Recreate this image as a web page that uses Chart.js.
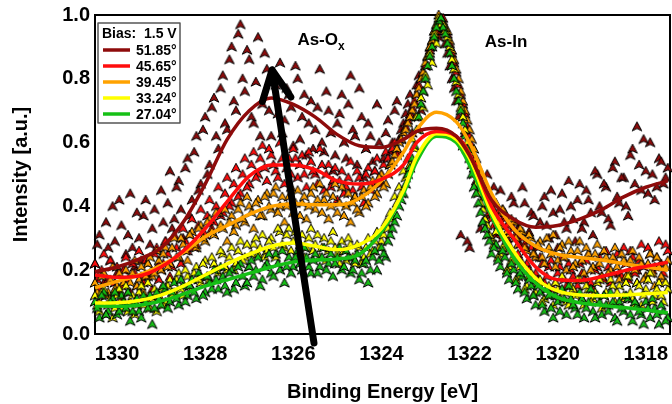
<!DOCTYPE html>
<html>
<head>
<meta charset="utf-8">
<script src="https://cdn.jsdelivr.net/npm/chart.js@4.4.1/dist/chart.umd.min.js"></script>
<style>
  html, body { margin: 0; padding: 0; background: #fff; }
  #wrap { width: 672px; height: 404px; }
</style>
</head>
<body>
<div id="wrap"><canvas id="chartXps" width="672" height="404"></canvas></div>
<script>
// angulos e cores das series
var angulos = ['51.85°', '45.65°', '39.45°', '33.24°', '27.04°'];
var cores = ['#8e0b0b', '#ff0d0d', '#ffa200', '#ffff00', '#16c016'];

// energias dos pontos medidos (eV)
var energias = [1330.5, 1330.4, 1330.3, 1330.2, 1330.1, 1330.0, 1329.9, 1329.8, 1329.7, 1329.6,
  1329.5, 1329.4, 1329.3, 1329.2, 1329.1, 1329.0, 1328.9, 1328.8, 1328.7, 1328.6,
  1328.5, 1328.4, 1328.3, 1328.2, 1328.1, 1328.0, 1327.9, 1327.8, 1327.7, 1327.6,
  1327.5, 1327.4, 1327.3, 1327.2, 1327.1, 1327.0, 1326.9, 1326.8, 1326.7, 1326.6,
  1326.5, 1326.4, 1326.3, 1326.2, 1326.1, 1326.0, 1325.9, 1325.8, 1325.7, 1325.6,
  1325.5, 1325.4, 1325.3, 1325.2, 1325.1, 1325.0, 1324.9, 1324.8, 1324.7, 1324.6,
  1324.5, 1324.4, 1324.3, 1324.2, 1324.1, 1324.0, 1323.9, 1323.8, 1323.7, 1323.6,
  1323.5, 1323.4, 1323.3, 1323.2, 1323.1, 1323.0, 1322.9, 1322.8, 1322.7, 1322.6,
  1322.5, 1322.4, 1322.3, 1322.2, 1322.1, 1322.0, 1321.9, 1321.8, 1321.7, 1321.6,
  1321.5, 1321.4, 1321.3, 1321.2, 1321.1, 1321.0, 1320.9, 1320.8, 1320.7, 1320.6,
  1320.5, 1320.4, 1320.3, 1320.2, 1320.1, 1320.0, 1319.9, 1319.8, 1319.7, 1319.6,
  1319.5, 1319.4, 1319.3, 1319.2, 1319.1, 1319.0, 1318.9, 1318.8, 1318.7, 1318.6,
  1318.5, 1318.4, 1318.3, 1318.2, 1318.1, 1318.0, 1317.9, 1317.8, 1317.7, 1317.6,
  1317.5];
var energias2 = [1330.45, 1330.35, 1330.25, 1330.15, 1330.05, 1329.95, 1329.85, 1329.75, 1329.65, 1329.55,
  1329.45, 1329.35, 1329.25, 1329.15, 1329.05, 1328.95, 1328.85, 1328.75, 1328.65, 1328.55,
  1328.45, 1328.35, 1328.25, 1328.15, 1328.05, 1327.95, 1327.85, 1327.75, 1327.65, 1327.55,
  1327.45, 1327.35, 1327.25, 1327.15, 1327.05, 1326.95, 1326.85, 1326.75, 1326.65, 1326.55,
  1326.45, 1326.35, 1326.25, 1326.15, 1326.05, 1325.95, 1325.85, 1325.75, 1325.65, 1325.55,
  1325.45, 1325.35, 1325.25, 1325.15, 1325.05, 1324.95, 1324.85, 1324.75, 1324.65, 1324.55,
  1324.45, 1324.35, 1324.25, 1324.15, 1324.05, 1323.95, 1323.85, 1323.75, 1323.65, 1323.55,
  1323.45, 1323.35, 1323.25, 1323.15, 1323.05, 1322.95, 1322.85, 1322.75, 1322.65, 1322.55,
  1322.45, 1322.35, 1322.25, 1322.15, 1322.05, 1321.95, 1321.85, 1321.75, 1321.65, 1321.55,
  1321.45, 1321.35, 1321.25, 1321.15, 1321.05, 1320.95, 1320.85, 1320.75, 1320.65, 1320.55,
  1320.45, 1320.35, 1320.25, 1320.15, 1320.05, 1319.95, 1319.85, 1319.75, 1319.65, 1319.55,
  1319.45, 1319.35, 1319.25, 1319.15, 1319.05, 1318.95, 1318.85, 1318.75, 1318.65, 1318.55,
  1318.45, 1318.35, 1318.25, 1318.15, 1318.05, 1317.95, 1317.85, 1317.75, 1317.65, 1317.55];

// intensidades medidas (primeira grade)
var med5185 = [0.22, 0.31, 0.16, 0.27, 0.40, 0.19, 0.34, 0.25, 0.44, 0.21,
  0.30, 0.37, 0.18, 0.33, 0.26, 0.45, 0.29, 0.51, 0.36, 0.48,
  0.30, 0.55, 0.42, 0.62, 0.47, 0.68, 0.53, 0.74, 0.58, 0.81,
  0.64, 0.90, 0.70, 0.97, 0.76, 0.86, 0.66, 0.93, 0.72, 0.83,
  0.62, 0.78, 0.85, 0.67, 0.75, 0.59, 0.80, 0.68, 0.56, 0.73,
  0.64, 0.83, 0.57, 0.70, 0.51, 0.66, 0.75, 0.55, 0.81, 0.62,
  0.77, 0.49, 0.66, 0.54, 0.72, 0.47, 0.63, 0.57, 0.70, 0.61,
  0.66, 0.72, 0.63, 0.78, 0.70, 0.84, 0.90, 0.95, 0.93, 0.97,
  0.88, 0.80, 0.73, 0.31, 0.63, 0.27, 0.52, 0.45, 0.35, 0.50,
  0.40, 0.31, 0.45, 0.36, 0.27, 0.41, 0.33, 0.46, 0.29, 0.38,
  0.24, 0.35, 0.43, 0.30, 0.38, 0.27, 0.44, 0.33, 0.40, 0.29,
  0.47, 0.35, 0.42, 0.31, 0.50, 0.38, 0.46, 0.34, 0.54, 0.41,
  0.49, 0.37, 0.58, 0.65, 0.45, 0.51, 0.60, 0.42, 0.55, 0.47,
  0.52];
var med4565 = [0.22, 0.14, 0.25, 0.17, 0.11, 0.21, 0.15, 0.24, 0.13, 0.19,
  0.26, 0.16, 0.22, 0.14, 0.27, 0.20, 0.29, 0.18, 0.31, 0.24,
  0.33, 0.26, 0.36, 0.28, 0.39, 0.31, 0.42, 0.35, 0.46, 0.38,
  0.49, 0.41, 0.52, 0.44, 0.55, 0.47, 0.57, 0.50, 0.59, 0.48,
  0.56, 0.51, 0.60, 0.47, 0.55, 0.58, 0.49, 0.56, 0.46, 0.54,
  0.50, 0.58, 0.45, 0.53, 0.48, 0.42, 0.51, 0.46, 0.54, 0.43,
  0.49, 0.41, 0.52, 0.47, 0.55, 0.50, 0.57, 0.53, 0.60, 0.57,
  0.63, 0.67, 0.71, 0.75, 0.80, 0.84, 0.89, 0.93, 0.97, 0.99,
  0.94, 0.88, 0.82, 0.75, 0.69, 0.62, 0.56, 0.50, 0.45, 0.40,
  0.36, 0.41, 0.32, 0.37, 0.28, 0.33, 0.25, 0.30, 0.22, 0.27,
  0.19, 0.24, 0.16, 0.21, 0.14, 0.19, 0.24, 0.15, 0.20, 0.13,
  0.22, 0.17, 0.25, 0.14, 0.21, 0.18, 0.26, 0.16, 0.23, 0.19,
  0.27, 0.17, 0.24, 0.20, 0.28, 0.18, 0.25, 0.21, 0.29, 0.19,
  0.26];
var med3945 = [0.16, 0.10, 0.19, 0.13, 0.21, 0.15, 0.11, 0.20, 0.16, 0.23,
  0.17, 0.13, 0.22, 0.18, 0.26, 0.20, 0.27, 0.22, 0.30, 0.24,
  0.28, 0.23, 0.32, 0.27, 0.34, 0.29, 0.36, 0.31, 0.38, 0.33,
  0.29, 0.37, 0.34, 0.41, 0.35, 0.40, 0.33, 0.42, 0.37, 0.44,
  0.39, 0.46, 0.40, 0.35, 0.43, 0.38, 0.45, 0.41, 0.36, 0.44,
  0.39, 0.47, 0.42, 0.36, 0.43, 0.38, 0.46, 0.40, 0.35, 0.43,
  0.38, 0.45, 0.41, 0.48, 0.44, 0.50, 0.47, 0.53, 0.56, 0.60,
  0.63, 0.66, 0.70, 0.75, 0.80, 0.85, 0.90, 0.95, 1.00, 0.98,
  0.95, 0.89, 0.83, 0.76, 0.70, 0.64, 0.58, 0.52, 0.47, 0.43,
  0.40, 0.37, 0.34, 0.38, 0.31, 0.35, 0.28, 0.32, 0.26, 0.30,
  0.24, 0.29, 0.22, 0.27, 0.31, 0.23, 0.28, 0.20, 0.26, 0.22,
  0.29, 0.19, 0.25, 0.21, 0.28, 0.18, 0.24, 0.20, 0.27, 0.17,
  0.23, 0.19, 0.26, 0.16, 0.22, 0.18, 0.25, 0.15, 0.21, 0.17,
  0.23];
var med3324 = [0.12, 0.07, 0.14, 0.09, 0.05, 0.12, 0.08, 0.15, 0.10, 0.06,
  0.13, 0.09, 0.16, 0.11, 0.07, 0.14, 0.10, 0.17, 0.13, 0.19,
  0.12, 0.18, 0.14, 0.21, 0.16, 0.23, 0.17, 0.22, 0.19, 0.25,
  0.20, 0.27, 0.22, 0.29, 0.24, 0.21, 0.28, 0.25, 0.31, 0.26,
  0.30, 0.24, 0.32, 0.27, 0.33, 0.29, 0.25, 0.31, 0.27, 0.33,
  0.28, 0.24, 0.30, 0.26, 0.32, 0.25, 0.29, 0.23, 0.28, 0.22,
  0.27, 0.24, 0.30, 0.26, 0.32, 0.29, 0.35, 0.38, 0.43, 0.46,
  0.51, 0.55, 0.61, 0.68, 0.74, 0.81, 0.88, 0.94, 0.99, 0.97,
  0.93, 0.86, 0.79, 0.71, 0.64, 0.57, 0.50, 0.44, 0.39, 0.34,
  0.30, 0.32, 0.25, 0.28, 0.21, 0.24, 0.18, 0.22, 0.15, 0.19,
  0.13, 0.17, 0.11, 0.15, 0.09, 0.14, 0.18, 0.10, 0.15, 0.12,
  0.17, 0.09, 0.14, 0.11, 0.16, 0.08, 0.13, 0.17, 0.10, 0.15,
  0.12, 0.18, 0.11, 0.16, 0.09, 0.14, 0.19, 0.12, 0.16, 0.10,
  0.14];
var med2704 = [0.10, 0.05, 0.13, 0.07, 0.11, 0.06, 0.12, 0.08, 0.04, 0.10,
  0.07, 0.12, 0.08, 0.03, 0.13, 0.09, 0.14, 0.10, 0.16, 0.09,
  0.15, 0.12, 0.17, 0.11, 0.18, 0.13, 0.16, 0.20, 0.14, 0.18,
  0.13, 0.20, 0.16, 0.22, 0.15, 0.21, 0.18, 0.24, 0.17, 0.22,
  0.19, 0.25, 0.20, 0.16, 0.24, 0.21, 0.26, 0.20, 0.24, 0.19,
  0.25, 0.21, 0.27, 0.22, 0.18, 0.24, 0.20, 0.26, 0.19, 0.23,
  0.17, 0.22, 0.16, 0.24, 0.20, 0.27, 0.24, 0.31, 0.35, 0.40,
  0.44, 0.50, 0.55, 0.64, 0.72, 0.80, 0.87, 0.93, 0.98, 0.96,
  0.91, 0.84, 0.76, 0.70, 0.62, 0.55, 0.46, 0.41, 0.35, 0.31,
  0.25, 0.28, 0.21, 0.24, 0.17, 0.20, 0.14, 0.18, 0.11, 0.15,
  0.09, 0.13, 0.07, 0.12, 0.05, 0.10, 0.14, 0.06, 0.11, 0.08,
  0.13, 0.05, 0.10, 0.07, 0.12, 0.06, 0.09, 0.13, 0.05, 0.10,
  0.07, 0.11, 0.04, 0.09, 0.06, 0.10, 0.05, 0.08, 0.03, 0.07,
  0.05];

// intensidades medidas (segunda grade, meio passo)
var med5185b = [0.28, 0.18, 0.35, 0.23, 0.29, 0.42, 0.20, 0.31, 0.27, 0.38,
  0.23, 0.42, 0.28, 0.39, 0.22, 0.35, 0.41, 0.33, 0.46, 0.39,
  0.52, 0.37, 0.57, 0.45, 0.64, 0.50, 0.71, 0.62, 0.77, 0.66,
  0.86, 0.73, 0.94, 0.80, 0.89, 0.68, 0.79, 0.62, 0.88, 0.70,
  0.81, 0.69, 0.63, 0.77, 0.71, 0.84, 0.61, 0.75, 0.66, 0.58,
  0.71, 0.60, 0.76, 0.63, 0.56, 0.69, 0.60, 0.72, 0.64, 0.53,
  0.68, 0.58, 0.62, 0.51, 0.60, 0.55, 0.67, 0.60, 0.73, 0.64,
  0.69, 0.75, 0.68, 0.81, 0.76, 0.87, 0.92, 0.97, 0.95, 0.91,
  0.84, 0.77, 0.68, 0.59, 0.29, 0.55, 0.48, 0.33, 0.44, 0.37,
  0.46, 0.34, 0.39, 0.30, 0.43, 0.35, 0.28, 0.41, 0.32, 0.37,
  0.27, 0.40, 0.34, 0.45, 0.31, 0.39, 0.35, 0.48, 0.36, 0.42,
  0.33, 0.45, 0.38, 0.51, 0.40, 0.47, 0.36, 0.52, 0.43, 0.49,
  0.40, 0.56, 0.47, 0.53, 0.61, 0.44, 0.50, 0.46, 0.54, 0.49];
var med4565b = [0.17, 0.20, 0.12, 0.23, 0.16, 0.13, 0.20, 0.17, 0.22, 0.15,
  0.18, 0.23, 0.19, 0.25, 0.17, 0.22, 0.25, 0.21, 0.27, 0.22,
  0.29, 0.31, 0.27, 0.34, 0.30, 0.37, 0.33, 0.40, 0.37, 0.44,
  0.40, 0.47, 0.43, 0.50, 0.46, 0.53, 0.49, 0.55, 0.52, 0.58,
  0.53, 0.49, 0.55, 0.52, 0.50, 0.55, 0.53, 0.50, 0.57, 0.51,
  0.47, 0.53, 0.50, 0.46, 0.52, 0.48, 0.44, 0.49, 0.45, 0.51,
  0.46, 0.50, 0.45, 0.51, 0.48, 0.53, 0.55, 0.58, 0.56, 0.61,
  0.65, 0.69, 0.73, 0.78, 0.82, 0.87, 0.91, 0.95, 0.98, 0.96,
  0.91, 0.85, 0.78, 0.72, 0.65, 0.59, 0.53, 0.47, 0.43, 0.38,
  0.34, 0.38, 0.30, 0.34, 0.26, 0.31, 0.23, 0.28, 0.20, 0.25,
  0.17, 0.22, 0.18, 0.23, 0.16, 0.21, 0.17, 0.22, 0.18, 0.15,
  0.19, 0.23, 0.16, 0.20, 0.24, 0.17, 0.21, 0.19, 0.25, 0.18,
  0.22, 0.26, 0.19, 0.23, 0.21, 0.27, 0.20, 0.24, 0.22, 0.28];
var med3945b = [0.13, 0.18, 0.12, 0.17, 0.14, 0.19, 0.16, 0.13, 0.19, 0.15,
  0.21, 0.18, 0.24, 0.19, 0.23, 0.25, 0.21, 0.27, 0.24, 0.30,
  0.26, 0.31, 0.28, 0.33, 0.30, 0.35, 0.32, 0.38, 0.34, 0.39,
  0.35, 0.32, 0.39, 0.36, 0.43, 0.38, 0.41, 0.37, 0.43, 0.40,
  0.44, 0.38, 0.43, 0.40, 0.46, 0.41, 0.37, 0.43, 0.40, 0.46,
  0.42, 0.38, 0.44, 0.40, 0.47, 0.41, 0.37, 0.44, 0.41, 0.39,
  0.43, 0.40, 0.46, 0.43, 0.49, 0.46, 0.50, 0.54, 0.58, 0.61,
  0.64, 0.68, 0.72, 0.77, 0.82, 0.87, 0.92, 0.97, 0.99, 0.96,
  0.92, 0.86, 0.80, 0.73, 0.67, 0.61, 0.55, 0.50, 0.45, 0.41,
  0.38, 0.35, 0.39, 0.32, 0.36, 0.30, 0.33, 0.27, 0.31, 0.25,
  0.28, 0.24, 0.30, 0.25, 0.21, 0.27, 0.24, 0.29, 0.21, 0.26,
  0.23, 0.27, 0.20, 0.25, 0.22, 0.26, 0.19, 0.24, 0.21, 0.25,
  0.18, 0.23, 0.20, 0.24, 0.17, 0.22, 0.19, 0.24, 0.18, 0.21];
var med3324b = [0.09, 0.13, 0.06, 0.11, 0.08, 0.14, 0.10, 0.07, 0.12, 0.09,
  0.15, 0.11, 0.08, 0.14, 0.12, 0.09, 0.15, 0.12, 0.17, 0.14,
  0.20, 0.15, 0.19, 0.17, 0.22, 0.18, 0.24, 0.20, 0.26, 0.21,
  0.24, 0.20, 0.26, 0.23, 0.28, 0.25, 0.30, 0.27, 0.24, 0.29,
  0.27, 0.33, 0.28, 0.31, 0.26, 0.32, 0.28, 0.24, 0.30, 0.26,
  0.31, 0.27, 0.23, 0.29, 0.27, 0.22, 0.26, 0.30, 0.24, 0.28,
  0.22, 0.27, 0.25, 0.29, 0.27, 0.31, 0.33, 0.36, 0.41, 0.44,
  0.49, 0.53, 0.58, 0.64, 0.71, 0.78, 0.85, 0.91, 0.97, 0.95,
  0.90, 0.83, 0.75, 0.68, 0.60, 0.53, 0.47, 0.41, 0.36, 0.31,
  0.28, 0.24, 0.27, 0.20, 0.23, 0.17, 0.21, 0.14, 0.18, 0.12,
  0.16, 0.10, 0.14, 0.12, 0.16, 0.11, 0.13, 0.09, 0.14, 0.17,
  0.11, 0.15, 0.10, 0.13, 0.17, 0.12, 0.09, 0.15, 0.13, 0.11,
  0.16, 0.13, 0.09, 0.15, 0.12, 0.17, 0.10, 0.14, 0.12, 0.16];
var med2704b = [0.08, 0.12, 0.06, 0.10, 0.13, 0.07, 0.10, 0.13, 0.07, 0.11,
  0.05, 0.10, 0.12, 0.08, 0.11, 0.15, 0.08, 0.13, 0.11, 0.17,
  0.10, 0.15, 0.13, 0.19, 0.12, 0.18, 0.14, 0.17, 0.21, 0.15,
  0.19, 0.14, 0.21, 0.18, 0.16, 0.23, 0.20, 0.15, 0.21, 0.25,
  0.18, 0.22, 0.26, 0.21, 0.19, 0.24, 0.22, 0.27, 0.21, 0.23,
  0.19, 0.24, 0.20, 0.25, 0.22, 0.27, 0.21, 0.24, 0.20, 0.25,
  0.19, 0.23, 0.20, 0.26, 0.23, 0.25, 0.29, 0.33, 0.37, 0.42,
  0.47, 0.52, 0.59, 0.68, 0.76, 0.84, 0.90, 0.96, 0.99, 0.94,
  0.88, 0.80, 0.73, 0.66, 0.58, 0.50, 0.44, 0.38, 0.33, 0.29,
  0.27, 0.23, 0.26, 0.19, 0.22, 0.16, 0.19, 0.13, 0.17, 0.12,
  0.15, 0.09, 0.14, 0.08, 0.12, 0.07, 0.11, 0.15, 0.09, 0.06,
  0.11, 0.08, 0.14, 0.05, 0.10, 0.12, 0.07, 0.10, 0.04, 0.08,
  0.12, 0.06, 0.10, 0.07, 0.03, 0.08, 0.11, 0.06, 0.09, 0.04];

// curvas ajustadas
var energiasAjuste = [1330.5, 1330, 1329.5, 1329, 1328.5, 1328, 1327.5, 1327, 1326.5, 1326,
  1325.5, 1325, 1324.5, 1324, 1323.5, 1323.2, 1322.75, 1322.3, 1322, 1321.5,
  1321, 1320.5, 1320, 1319.5, 1319, 1318.5, 1318, 1317.5];
var ajuste5185 = [0.195, 0.21, 0.235, 0.27, 0.35, 0.47, 0.61, 0.70, 0.74, 0.72,
  0.68, 0.625, 0.59, 0.585, 0.61, 0.635, 0.645, 0.62, 0.56, 0.42,
  0.36, 0.335, 0.34, 0.36, 0.39, 0.43, 0.46, 0.48];
var ajuste4565 = [0.185, 0.178, 0.182, 0.21, 0.26, 0.33, 0.415, 0.495, 0.53, 0.53,
  0.515, 0.48, 0.47, 0.485, 0.53, 0.60, 0.635, 0.62, 0.565, 0.40,
  0.30, 0.21, 0.17, 0.168, 0.18, 0.198, 0.212, 0.225];
var ajuste3945 = [0.145, 0.165, 0.185, 0.215, 0.255, 0.305, 0.34, 0.375, 0.40, 0.408,
  0.405, 0.405, 0.425, 0.48, 0.57, 0.64, 0.695, 0.665, 0.60, 0.44,
  0.33, 0.275, 0.25, 0.24, 0.232, 0.22, 0.21, 0.20];
var ajuste3324 = [0.097, 0.098, 0.105, 0.122, 0.15, 0.185, 0.22, 0.25, 0.275, 0.285,
  0.275, 0.264, 0.28, 0.33, 0.45, 0.555, 0.628, 0.61, 0.55, 0.38,
  0.26, 0.175, 0.135, 0.122, 0.12, 0.122, 0.126, 0.13];
var ajuste2704 = [0.088, 0.087, 0.09, 0.103, 0.125, 0.15, 0.17, 0.19, 0.21, 0.226,
  0.232, 0.235, 0.25, 0.32, 0.44, 0.54, 0.62, 0.60, 0.53, 0.37,
  0.24, 0.16, 0.115, 0.098, 0.09, 0.083, 0.075, 0.066];

var ticksX = [1330, 1328, 1326, 1324, 1322, 1320, 1318];
var ticksY = [0.0, 0.2, 0.4, 0.6, 0.8, 1.0];

var medidas = [med5185, med4565, med3945, med3324, med2704];
var medidasB = [med5185b, med4565b, med3945b, med3324b, med2704b];
var ajustes = [ajuste5185, ajuste4565, ajuste3945, ajuste3324, ajuste2704];

var fonte = '"Liberation Sans", Arial, sans-serif';

// marcador tipo ponta de seta
function criarMarcador(cor) {
    var c = document.createElement('canvas');
    c.width = 12; c.height = 12;
    var g = c.getContext('2d');
    g.beginPath();
    g.moveTo(6, 1.2);
    g.lineTo(10.8, 10.2);
    g.lineTo(6, 7.8);
    g.lineTo(1.2, 10.2);
    g.closePath();
    g.fillStyle = cor;
    g.fill();
    g.lineWidth = 1;
    g.strokeStyle = '#000';
    g.stroke();
    return c;
}

function pares(xs, ys) {
    var out = [];
    for (let i = 0; i < ys.length; i++) {
        out.push({ x: xs[i], y: ys[i] });
    }
    return out;
}

var datasets = [];
for (let i = 0; i < angulos.length; i++) {
    datasets.push({
        label: angulos[i],
        data: pares(energiasAjuste, ajustes[i]),
        showLine: true,
        borderColor: cores[i],
        borderWidth: 3.5,
        pointRadius: 0,
        cubicInterpolationMode: 'monotone',
        order: 0,
        clip: 2
    });
}
for (let i = 0; i < angulos.length; i++) {
    datasets.push({
        label: 'med ' + angulos[i],
        data: pares(energias, medidas[i]).concat(pares(energias2, medidasB[i])),
        pointStyle: criarMarcador(cores[i]),
        pointRadius: 5,
        pointHoverRadius: 5,
        showLine: false,
        order: 10 - i,
        clip: 8
    });
}

var moldura = {
    id: 'moldura',
    beforeDatasetsDraw(chart) {
        var a = chart.chartArea, ctx = chart.ctx;
        ctx.save();
        ctx.strokeStyle = '#000';
        ctx.lineWidth = 2;
        ctx.strokeRect(a.left, a.top, a.right - a.left, a.bottom - a.top);
        ctx.restore();
    },
    afterDatasetsDraw(chart) {
        var ctx = chart.ctx, sx = chart.scales.x, sy = chart.scales.y, a = chart.chartArea;
        ctx.save();
        // seta
        var x0 = sx.getPixelForValue(1325.53), y0 = sy.getPixelForValue(-0.028);
        var x1 = sx.getPixelForValue(1326.48), y1 = sy.getPixelForValue(0.828);
        ctx.strokeStyle = '#000';
        ctx.lineWidth = 7;
        ctx.lineCap = 'round';
        ctx.lineJoin = 'round';
        ctx.beginPath();
        ctx.moveTo(x0, y0);
        ctx.lineTo(x1, y1);
        var ang = Math.atan2(y0 - y1, x0 - x1);
        var L = 33;
        ctx.moveTo(x1 + L * Math.cos(ang + 0.45), y1 + L * Math.sin(ang + 0.45));
        ctx.lineTo(x1, y1);
        ctx.lineTo(x1 + L * Math.cos(ang - 0.45), y1 + L * Math.sin(ang - 0.45));
        ctx.stroke();

        // rotulos dos picos
        ctx.fillStyle = '#000';
        ctx.textBaseline = 'middle';
        ctx.font = 'bold 17px ' + fonte;
        var px = sx.getPixelForValue(1325.37), py = sy.getPixelForValue(0.92);
        var w1 = ctx.measureText('As-O').width;
        ctx.font = 'bold 12px ' + fonte;
        var w2 = ctx.measureText('x').width;
        ctx.font = 'bold 17px ' + fonte;
        ctx.textAlign = 'left';
        ctx.fillText('As-O', px - (w1 + w2) / 2, py);
        ctx.font = 'bold 12px ' + fonte;
        ctx.fillText('x', px - (w1 + w2) / 2 + w1, py + 6);
        ctx.font = 'bold 17px ' + fonte;
        ctx.textAlign = 'center';
        ctx.fillText('As-In', sx.getPixelForValue(1321.17), sy.getPixelForValue(0.915));

        // legenda
        var lx = a.left + 3, ly = a.top + 8;
        ctx.fillStyle = '#fff';
        ctx.fillRect(lx, ly, 82, 100);
        ctx.strokeStyle = '#555';
        ctx.lineWidth = 1.5;
        ctx.strokeRect(lx, ly, 82, 100);
        ctx.fillStyle = '#000';
        ctx.textAlign = 'left';
        ctx.font = 'bold 14px ' + fonte;
        ctx.fillText('Bias:  1.5 V', lx + 4, ly + 11);
        for (let i = 0; i < angulos.length; i++) {
            var ry = ly + 27 + i * 16;
            ctx.strokeStyle = cores[i];
            ctx.lineWidth = 3.5;
            ctx.lineCap = 'butt';
            ctx.beginPath();
            ctx.moveTo(lx + 5, ry);
            ctx.lineTo(lx + 32, ry);
            ctx.stroke();
            ctx.fillText(angulos[i], lx + 38, ry + 1);
        }
        ctx.restore();
    }
};

new Chart(document.getElementById('chartXps'), {
    type: 'scatter',
    data: { datasets: datasets },
    options: {
        responsive: false,
        animation: false,
        events: [],
        layout: { autoPadding: false, padding: { top: 15, right: 2, left: 0, bottom: 0 } },
        plugins: {
            legend: { display: false },
            tooltip: { enabled: false }
        },
        scales: {
            x: {
                type: 'linear',
                reverse: true,
                min: 1317.45,
                max: 1330.5,
                afterBuildTicks: (s) => { s.ticks = ticksX.map(v => ({ value: v })); },
                afterFit: (s) => { s.height = 70; s.paddingLeft = 0; s.paddingRight = 0; },
                grid: { display: false, drawTicks: false },
                border: { display: true, color: '#000', width: 2 },
                ticks: {
                    color: '#000',
                    padding: 8,
                    maxRotation: 0,
                    font: { family: fonte, size: 20, weight: 'bold' },
                    callback: (v) => String(v)
                },
                title: {
                    display: true,
                    text: 'Binding Energy [eV]',
                    color: '#000',
                    padding: { top: 0, bottom: 0 },
                    font: { family: fonte, size: 20, weight: 'bold' }
                }
            },
            y: {
                min: 0,
                max: 1,
                afterBuildTicks: (s) => { s.ticks = ticksY.map(v => ({ value: v })); },
                afterFit: (s) => { s.width = 95; s.paddingTop = 0; s.paddingBottom = 0; },
                grid: { display: false, drawTicks: false },
                border: { display: true, color: '#000', width: 2 },
                ticks: {
                    color: '#000',
                    padding: 5,
                    font: { family: fonte, size: 20, weight: 'bold' },
                    callback: (v) => v.toFixed(1)
                },
                title: {
                    display: true,
                    text: 'Intensity [a.u.]',
                    color: '#000',
                    padding: { top: 9, bottom: 0 },
                    font: { family: fonte, size: 20, weight: 'bold' }
                }
            }
        }
    },
    plugins: [moldura]
});
</script>
</body>
</html>
